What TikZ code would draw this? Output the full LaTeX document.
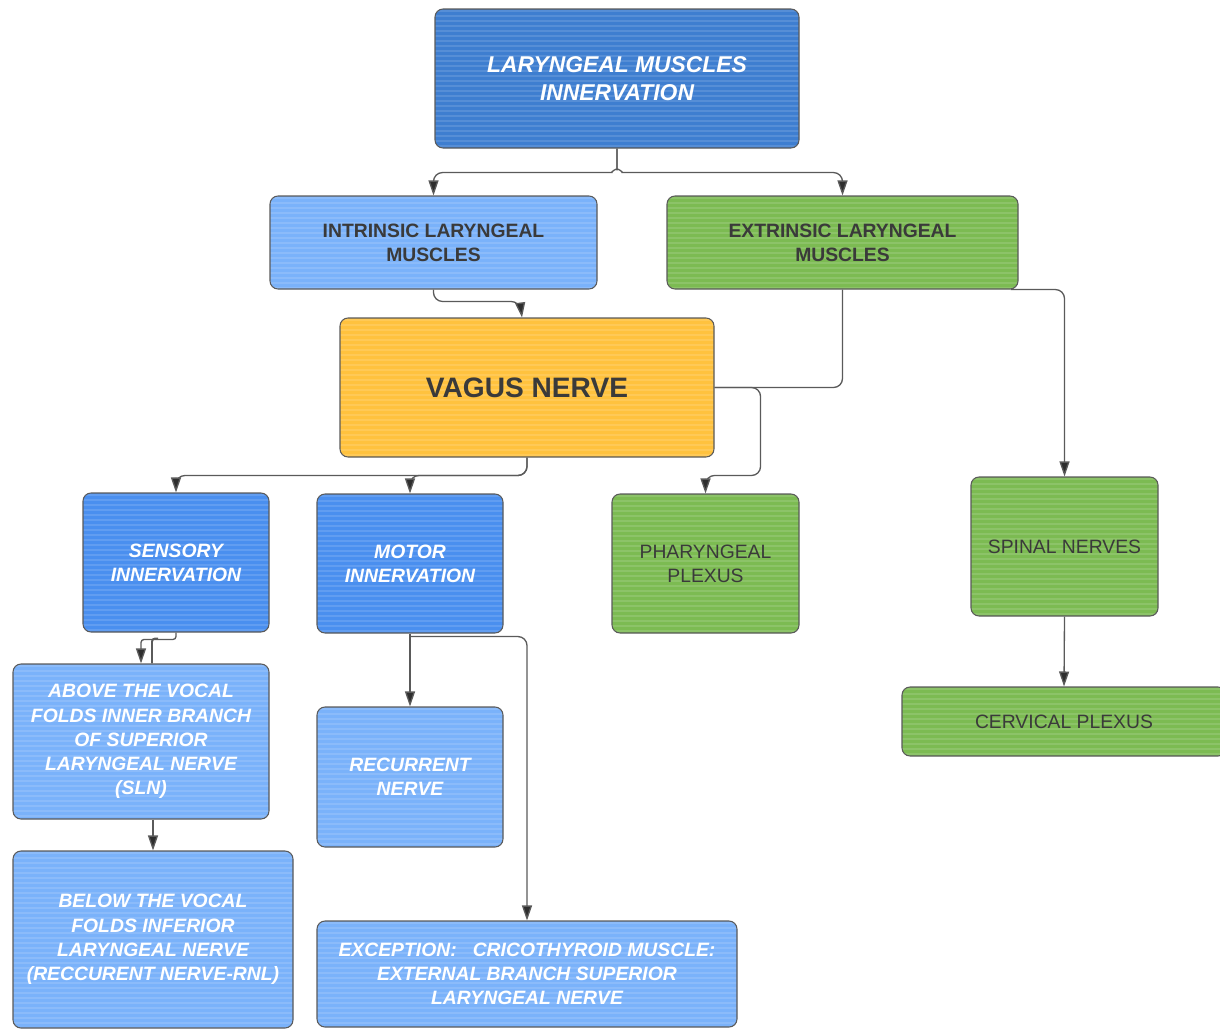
\documentclass[tikz,border=0pt]{standalone}
\usepackage{fontspec}
\setmainfont{Liberation Sans}
\usetikzlibrary{arrows.meta,calc}
\definecolor{topblue}{HTML}{3E7ED0}
\definecolor{midblue}{HTML}{4A8FEF}
\definecolor{lightblue}{HTML}{7AB2FA}
\definecolor{leafgreen}{HTML}{7CBB52}
\definecolor{vagusyellow}{HTML}{FFC23E}
\definecolor{edgegrey}{HTML}{5A5A5A}
\definecolor{darktext}{HTML}{3A3A3A}
\definecolor{arrowdark}{HTML}{2E2E2E}
\tikzset{
  bx/.style={draw=edgegrey, line width=0.6pt, rounded corners=0.16cm, inner sep=0pt, align=center,
    path picture={\foreach \i in {2,7,...,200}
      \draw[white, opacity=0.13, line width=1.3pt]
        ([yshift=-\i*0.02cm]path picture bounding box.north west) --
        ([yshift=-\i*0.02cm]path picture bounding box.north east);}},
  wtxt/.style={text=white, font={\fontsize{11}{13.8}\selectfont\bfseries\itshape}},
  dtxt/.style={text=darktext, font={\fontsize{11}{13.6}\selectfont\bfseries}},
  ptxt/.style={text=darktext, font={\fontsize{11}{13.6}\selectfont}},
  conn/.style={draw=edgegrey, line width=0.75pt, rounded corners=0.18cm},
  arr/.style={conn, -{Triangle[length=0.3cm,width=0.2cm,fill=arrowdark]}},
}
\begin{document}
\begin{tikzpicture}[x=0.02cm,y=-0.02cm]
\useasboundingbox (0,0) rectangle (1220,1028);
\clip (0,0) rectangle (1220,1028);

% nodes
\node[bx, fill=topblue, wtxt, font={\fontsize{13}{16}\selectfont\bfseries\itshape},
  minimum width=364*0.02cm, minimum height=139*0.02cm] (top) at (617,78.5)
  {LARYNGEAL MUSCLES\\INNERVATION};
\node[bx, fill=lightblue, dtxt, minimum width=327*0.02cm, minimum height=93*0.02cm] (intr) at (433.5,242.5)
  {INTRINSIC LARYNGEAL\\MUSCLES};
\node[bx, fill=leafgreen, dtxt, minimum width=351*0.02cm, minimum height=93*0.02cm] (extr) at (842.5,242.5)
  {EXTRINSIC LARYNGEAL\\MUSCLES};
\node[bx, fill=vagusyellow, text=darktext, font={\fontsize{16}{19}\selectfont\bfseries},
  minimum width=374*0.02cm, minimum height=139*0.02cm] (vagus) at (527,387.5)
  {VAGUS NERVE};
\node[bx, fill=midblue, wtxt, minimum width=186*0.02cm, minimum height=139*0.02cm] (sens) at (176,562.5)
  {SENSORY\\INNERVATION};
\node[bx, fill=midblue, wtxt, minimum width=186*0.02cm, minimum height=139*0.02cm] (motor) at (410,563.5)
  {MOTOR\\INNERVATION};
\node[bx, fill=leafgreen, ptxt, minimum width=187*0.02cm, minimum height=139*0.02cm] (phar) at (705.5,563.5)
  {PHARYNGEAL\\PLEXUS};
\node[bx, fill=leafgreen, ptxt, minimum width=187*0.02cm, minimum height=139*0.02cm] (spinal) at (1064.5,546.5)
  {SPINAL NERVES};
\node[bx, fill=leafgreen, ptxt, minimum width=324*0.02cm, minimum height=69*0.02cm] (cerv) at (1064,721.5)
  {CERVICAL PLEXUS};
\node[bx, fill=lightblue, wtxt, minimum width=256*0.02cm, minimum height=155*0.02cm] (above) at (141,741.5)
  {ABOVE THE VOCAL\\FOLDS INNER BRANCH\\OF SUPERIOR\\LARYNGEAL NERVE\\(SLN)};
\node[bx, fill=lightblue, wtxt, minimum width=186*0.02cm, minimum height=140*0.02cm] (recur) at (410,777)
  {RECURRENT\\NERVE};
\node[bx, fill=lightblue, wtxt, minimum width=280*0.02cm, minimum height=177*0.02cm] (below) at (153,939.5)
  {BELOW THE VOCAL\\FOLDS INFERIOR\\LARYNGEAL NERVE\\(RECCURENT NERVE-RNL)};
\node[bx, fill=lightblue, wtxt, minimum width=420*0.02cm, minimum height=106*0.02cm] (exc) at (527,974)
  {EXCEPTION:\ \ \ CRICOTHYROID MUSCLE:\\EXTERNAL BRANCH SUPERIOR\\LARYNGEAL NERVE};

% connectors
\draw[arr] (top.south) -- ($(top.south)+(0,12)$) to[out=-90,in=0] ($(top.south)+(-14,24)$) -| (intr.north);
\draw[arr] (top.south) -- ($(top.south)+(0,12)$) to[out=-90,in=180] ($(top.south)+(14,24)$) -| (extr.north);
\draw[arr] (intr.south) |- ($(vagus.north)+(-7,-16)$) -- ($(vagus.north)+(-5,0)$);
\draw[conn] (extr.south) |- (vagus.east);
\draw[arr] (vagus.east) -| ($(vagus.east)+(46,88)$) -| (phar.north);
\draw[arr] ($(extr.south east)+(-8,0)$) -| (spinal.north);
\draw[arr] (vagus.south) |- ($(sens.north)+(120,-17)$) -| (sens.north);
\draw[arr] (vagus.south) |- ($(motor.north)+(20,-18)$) -| (motor.north);
\draw[arr, rounded corners=0.06cm] (sens.south) |- ($(above.north)+(0,-24)$) -- (above.north);
\draw[conn, line width=1.1pt, rounded corners=0.06cm] ($(above.north)+(11,0)$) |- ($(sens.south)+(-18,6)$);
\draw[arr] (below.north |- above.south) -- (below.north);
\draw[arr] (motor.south) -- (recur.north);
\draw[arr] ($(motor.south)+(0,3)$) -| (exc.north);
\draw[arr] (spinal.south) -- (cerv.north);
\end{tikzpicture}
\end{document}
